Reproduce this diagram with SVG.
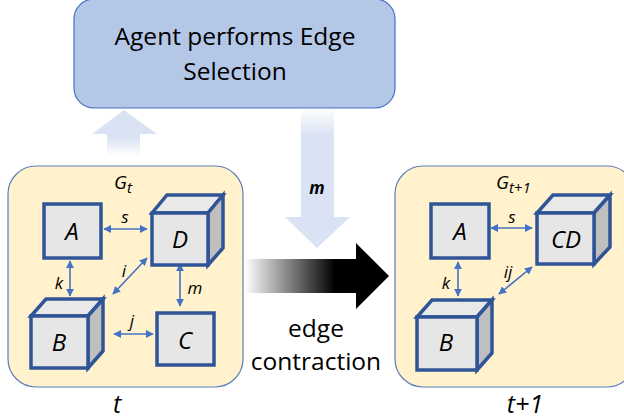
<svg xmlns="http://www.w3.org/2000/svg" width="624" height="419" viewBox="0 0 624 419">
<style>
.panel{fill:#FFF2CC;stroke:#5B7DB8;stroke-width:1.2}
.sq{fill:#E7E6E6;stroke:#2F5597;stroke-width:3.5;stroke-linejoin:miter}
.side{fill:#BFBFBF;stroke:#2F5597;stroke-width:3.5;stroke-linejoin:miter}
.top{fill:#E9E9E9;stroke:#2F5597;stroke-width:3.5;stroke-linejoin:miter}
.nl{font-family:"Open Sans","Liberation Sans",sans-serif;font-style:italic;font-size:24px;fill:#000;text-anchor:middle}
.el{font-family:"Open Sans","Liberation Sans",sans-serif;font-style:italic;font-size:17px;fill:#000;text-anchor:middle}
.big{font-family:"Open Sans","Liberation Sans",sans-serif;font-size:24.5px;fill:#000;text-anchor:middle}
.edge{stroke:#4472C4;stroke-width:1.6;fill:none;marker-start:url(#ah);marker-end:url(#ah)}
</style>
<defs>
<marker id="ah" viewBox="0 0 10 10" refX="9" refY="5" markerWidth="5" markerHeight="5" orient="auto-start-reverse" markerUnits="strokeWidth">
<path d="M0,0 L10,5 L0,10 z" fill="#4472C4"/>
</marker>
<linearGradient id="gBlack" gradientUnits="userSpaceOnUse" x1="245" y1="0" x2="335" y2="0">
<stop offset="0" stop-color="#ffffff"/>
<stop offset="1" stop-color="#000000"/>
</linearGradient>
<linearGradient id="gUp" gradientUnits="userSpaceOnUse" x1="0" y1="156" x2="0" y2="138">
<stop offset="0" stop-color="#DAE3F3" stop-opacity="0"/>
<stop offset="1" stop-color="#DAE3F3"/>
</linearGradient>
<linearGradient id="gDown" gradientUnits="userSpaceOnUse" x1="0" y1="108" x2="0" y2="135">
<stop offset="0" stop-color="#DAE3F3" stop-opacity="0"/>
<stop offset="1" stop-color="#DAE3F3"/>
</linearGradient>
</defs>

<g id="agent">
<rect x="74" y="-1" width="321" height="109" rx="20" fill="#B4C7E7" stroke="#4472C4" stroke-width="1.2"/>
<text class="big" x="235" y="45">Agent performs Edge</text>
<text class="big" x="235" y="80">Selection</text>
</g>

<g id="arrows">
<polygon points="124,110 157,134 140,134 140,156 107,156 107,134 92,134" fill="url(#gUp)"/>
<polygon points="301,108 334,108 334,217 350,217 317,248 285,217 301,217" fill="url(#gDown)"/>
<text x="317" y="194" font-family="'Open Sans','Liberation Sans',sans-serif" font-size="17" font-weight="bold" font-style="italic" text-anchor="middle">m</text>
<polygon points="245,259 356,259 356,243 389,276 356,309 356,293 245,293" fill="url(#gBlack)"/>
<text class="big" x="316" y="337">edge</text>
<text class="big" x="316" y="370">contraction</text>
</g>

<g id="panel-t">
<rect class="panel" x="8" y="166" width="235" height="221" rx="28"/>
<text x="114" y="189" font-family="'Open Sans','Liberation Sans',sans-serif" font-style="italic" font-size="19">G<tspan font-size="15" dy="4">t</tspan></text>
<text x="117" y="413" font-family="'Open Sans','Liberation Sans',sans-serif" font-style="italic" font-size="25" text-anchor="middle">t</text>
</g>

<g id="panel-t1">
<rect class="panel" x="395" y="166" width="240" height="221" rx="28"/>
<text x="496" y="189" font-family="'Open Sans','Liberation Sans',sans-serif" font-style="italic" font-size="19">G<tspan font-size="15" dy="4">t+1</tspan></text>
<text x="525" y="413" font-family="'Open Sans','Liberation Sans',sans-serif" font-style="italic" font-size="25" text-anchor="middle">t+1</text>
</g>

<g id="connectors">
<line class="edge" x1="104" y1="229" x2="147" y2="229"/>
<line class="edge" x1="70" y1="261" x2="70" y2="296"/>
<line class="edge" x1="113" y1="294" x2="147" y2="258"/>
<line class="edge" x1="180" y1="264" x2="180" y2="306"/>
<line class="edge" x1="114" y1="334" x2="153" y2="334"/>
<line class="edge" x1="491" y1="228" x2="532" y2="228"/>
<line class="edge" x1="458" y1="262" x2="458" y2="296"/>
<line class="edge" x1="499" y1="294" x2="532" y2="267"/>
<text class="el" x="125" y="223">s</text>
<text class="el" x="59" y="289">k</text>
<text class="el" x="124" y="277">i</text>
<text class="el" x="195" y="294">m</text>
<text class="el" x="132" y="327">j</text>
<text class="el" x="512" y="223">s</text>
<text class="el" x="446" y="289">k</text>
<text class="el" x="508" y="278">ij</text>
</g>

<g id="node-A">
<rect class="sq" x="44" y="204" width="57" height="54"/>
<text class="nl" x="72" y="240">A</text>
</g>

<g id="node-D">
<polygon class="top" points="152,213 167,195 223,195 208,213"/>
<polygon class="side" points="208,213 223,195 223,248 208,265"/>
<rect class="sq" x="152" y="213" width="56" height="52"/>
<text class="nl" x="180" y="248">D</text>
</g>

<g id="node-B">
<polygon class="top" points="31,316 46,299 103,299 88,316"/>
<polygon class="side" points="88,316 103,299 103,351 88,368"/>
<rect class="sq" x="31" y="316" width="57" height="52"/>
<text class="nl" x="59" y="351">B</text>
</g>

<g id="node-C">
<rect class="sq" x="157" y="313" width="57" height="52"/>
<text class="nl" x="185" y="349">C</text>
</g>

<g id="node-A2">
<rect class="sq" x="431" y="204" width="58" height="54"/>
<text class="nl" x="460" y="240">A</text>
</g>

<g id="node-CD">
<polygon class="top" points="537,213 553,195 610,195 594,213"/>
<polygon class="side" points="594,213 610,195 610,247 594,264"/>
<rect class="sq" x="537" y="213" width="57" height="51"/>
<text class="nl" x="566" y="248">CD</text>
</g>

<g id="node-B2">
<polygon class="top" points="417,317 432,300 492,300 477,317"/>
<polygon class="side" points="477,317 492,300 492,353 477,370"/>
<rect class="sq" x="417" y="317" width="60" height="53"/>
<text class="nl" x="446" y="351">B</text>
</g>
</svg>
